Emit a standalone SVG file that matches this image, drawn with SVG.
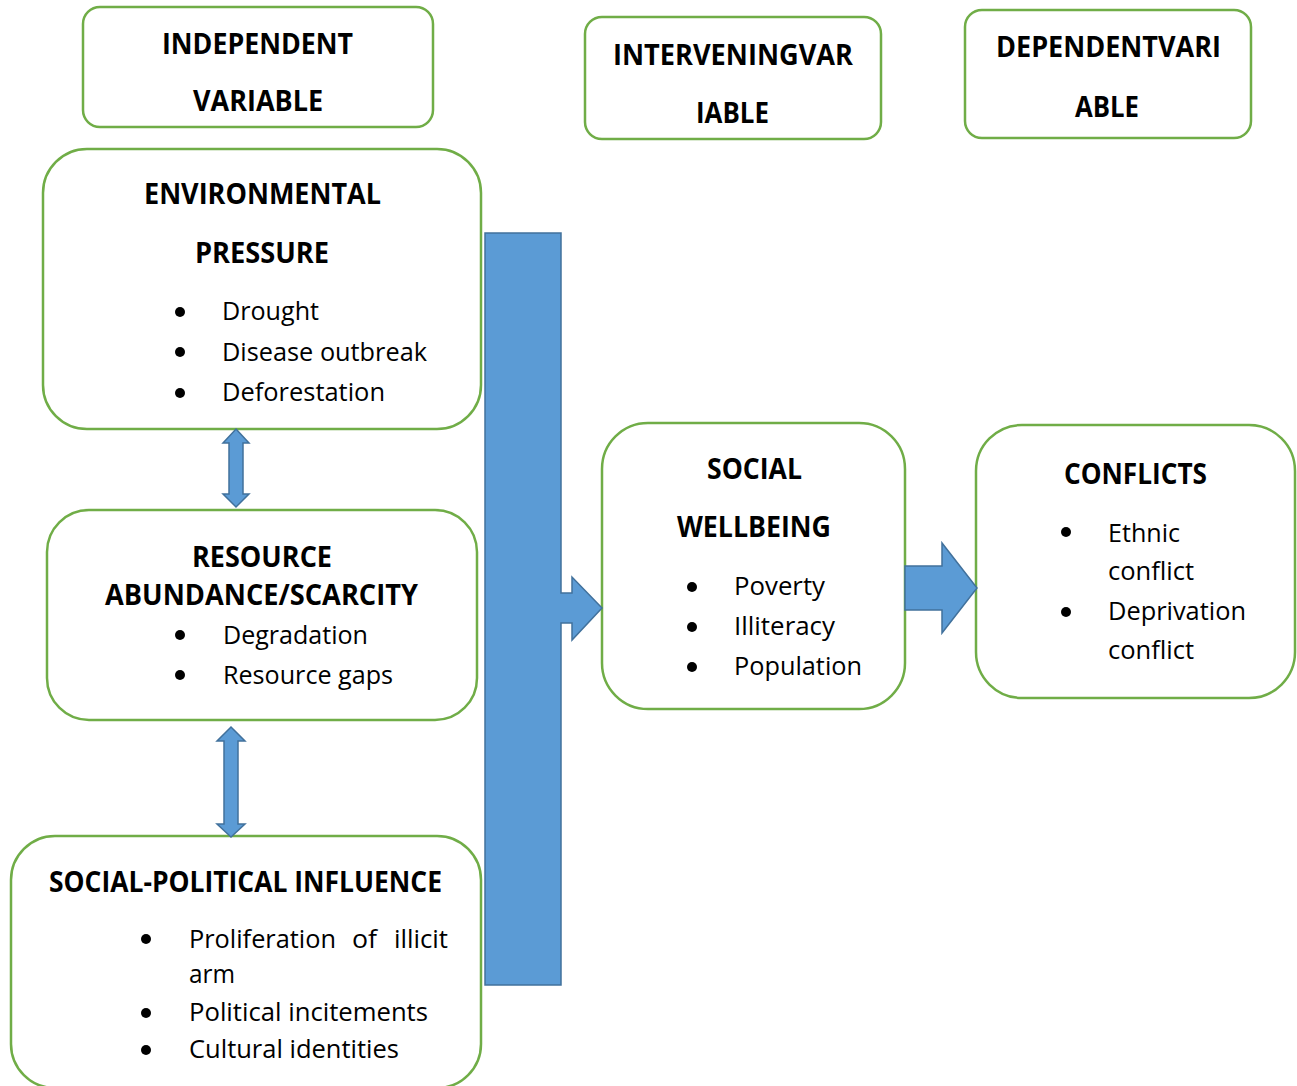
<svg xmlns="http://www.w3.org/2000/svg" width="1297" height="1086" viewBox="0 0 1297 1086">
<style>
.box{fill:#fff;stroke:#70AD47;stroke-width:2.5}
.h{font-family:"Open Sans","Liberation Sans",sans-serif;font-weight:bold;font-size:28px;fill:#000}
.t{font-family:"Open Sans","Liberation Sans",sans-serif;font-size:26px;fill:#000}
.arr{fill:#5B9BD5;stroke:#41719C;stroke-width:1.5;stroke-linejoin:miter}
.dot{fill:#000}
</style>
<rect width="1297" height="1086" fill="#fff"/>
<g id="independent-variable">
<rect class="box" x="83" y="7" width="350" height="120" rx="17"/>
<text class="h" x="162" y="54" textLength="191" lengthAdjust="spacingAndGlyphs">INDEPENDENT</text>
<text class="h" x="193" y="111" textLength="130" lengthAdjust="spacingAndGlyphs">VARIABLE</text>
</g>
<g id="intervening-variable">
<rect class="box" x="585" y="17" width="296" height="122" rx="17"/>
<text class="h" x="613" y="65" textLength="240" lengthAdjust="spacingAndGlyphs">INTERVENINGVAR</text>
<text class="h" x="696" y="123" textLength="73" lengthAdjust="spacingAndGlyphs">IABLE</text>
</g>
<g id="dependent-variable">
<rect class="box" x="965" y="10" width="286" height="128" rx="17"/>
<text class="h" x="996" y="57" textLength="225" lengthAdjust="spacingAndGlyphs">DEPENDENTVARI</text>
<text class="h" x="1075" y="117" textLength="64" lengthAdjust="spacingAndGlyphs">ABLE</text>
</g>
<g id="environmental-pressure">
<rect class="box" x="43" y="149" width="438" height="280" rx="44"/>
<text class="h" x="144" y="204" textLength="237" lengthAdjust="spacingAndGlyphs">ENVIRONMENTAL</text>
<text class="h" x="195" y="263" textLength="134" lengthAdjust="spacingAndGlyphs">PRESSURE</text>
<circle class="dot" cx="180" cy="312" r="5"/>
<circle class="dot" cx="180" cy="352" r="5"/>
<circle class="dot" cx="180" cy="393" r="5"/>
<text class="t" x="222" y="320" textLength="97" lengthAdjust="spacingAndGlyphs">Drought</text>
<text class="t" x="222" y="361" textLength="205" lengthAdjust="spacingAndGlyphs">Disease outbreak</text>
<text class="t" x="222" y="401" textLength="163" lengthAdjust="spacingAndGlyphs">Deforestation</text>
</g>
<g id="resource-abundance">
<rect class="box" x="47" y="510" width="430" height="210" rx="42"/>
<text class="h" x="192" y="567" textLength="140" lengthAdjust="spacingAndGlyphs">RESOURCE</text>
<text class="h" x="105" y="605" textLength="313" lengthAdjust="spacingAndGlyphs">ABUNDANCE/SCARCITY</text>
<circle class="dot" cx="180" cy="635" r="5"/>
<circle class="dot" cx="180" cy="675" r="5"/>
<text class="t" x="223" y="644" textLength="145" lengthAdjust="spacingAndGlyphs">Degradation</text>
<text class="t" x="223" y="684" textLength="170" lengthAdjust="spacingAndGlyphs">Resource gaps</text>
</g>
<g id="social-political-influence">
<rect class="box" x="11" y="836" width="470" height="252" rx="44"/>
<text class="h" x="49" y="892" textLength="393" lengthAdjust="spacingAndGlyphs">SOCIAL-POLITICAL INFLUENCE</text>
<circle class="dot" cx="146" cy="939" r="5"/>
<circle class="dot" cx="146" cy="1013" r="5"/>
<circle class="dot" cx="146" cy="1050" r="5"/>
<text class="t" y="948"><tspan x="189" textLength="147" lengthAdjust="spacingAndGlyphs">Proliferation</tspan><tspan x="352" textLength="25" lengthAdjust="spacingAndGlyphs">of</tspan><tspan x="394" textLength="54" lengthAdjust="spacingAndGlyphs">illicit</tspan></text>
<text class="t" x="189" y="983" textLength="46" lengthAdjust="spacingAndGlyphs">arm</text>
<text class="t" x="189" y="1021" textLength="239" lengthAdjust="spacingAndGlyphs">Political incitements</text>
<text class="t" x="189" y="1058" textLength="210" lengthAdjust="spacingAndGlyphs">Cultural identities</text>
</g>
<g id="social-wellbeing">
<rect class="box" x="602" y="423" width="303" height="286" rx="46"/>
<text class="h" x="707" y="479" textLength="95" lengthAdjust="spacingAndGlyphs">SOCIAL</text>
<text class="h" x="677" y="537" textLength="154" lengthAdjust="spacingAndGlyphs">WELLBEING</text>
<circle class="dot" cx="692" cy="587" r="5"/>
<circle class="dot" cx="692" cy="627" r="5"/>
<circle class="dot" cx="692" cy="667" r="5"/>
<text class="t" x="734" y="595" textLength="91" lengthAdjust="spacingAndGlyphs">Poverty</text>
<text class="t" x="734" y="635" textLength="101" lengthAdjust="spacingAndGlyphs">Illiteracy</text>
<text class="t" x="734" y="675" textLength="128" lengthAdjust="spacingAndGlyphs">Population</text>
</g>
<g id="conflicts">
<rect class="box" x="976" y="425" width="319" height="273" rx="46"/>
<text class="h" x="1064" y="484" textLength="143" lengthAdjust="spacingAndGlyphs">CONFLICTS</text>
<circle class="dot" cx="1066" cy="532" r="5"/>
<circle class="dot" cx="1066" cy="612" r="5"/>
<text class="t" x="1108" y="542" textLength="72" lengthAdjust="spacingAndGlyphs">Ethnic</text>
<text class="t" x="1108" y="580" textLength="86" lengthAdjust="spacingAndGlyphs">conflict</text>
<text class="t" x="1108" y="620" textLength="138" lengthAdjust="spacingAndGlyphs">Deprivation</text>
<text class="t" x="1108" y="659" textLength="86" lengthAdjust="spacingAndGlyphs">conflict</text>
</g>
<g id="connectors">
<polygon class="arr" points="485,233 561,233 561,593 572,593 572,577 602,608 572,640 572,623 561,623 561,985 485,985"/>
<polygon class="arr" points="905,566 942,566 942,543 977,588 942,633 942,610 905,610"/>
<polygon class="arr" points="236,429 249,443 243,443 243,494 249,494 236,507 223,494 229,494 229,443 223,443"/>
<polygon class="arr" points="231,727 245,741 238,741 238,824 245,824 231,837 217,824 224,824 224,741 217,741"/>
</g>
</svg>
